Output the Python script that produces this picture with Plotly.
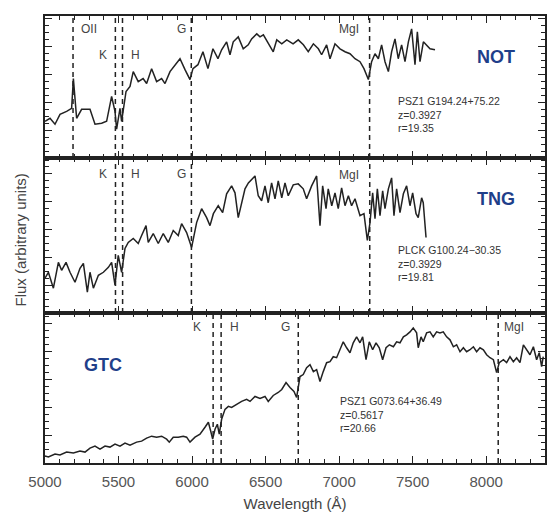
import plotly.graph_objects as go

# ---------------- data ----------------
not_wave = [5000, 5034, 5068, 5102, 5147, 5181, 5193, 5215, 5249, 5306, 5340, 5385, 5419, 5453, 5476, 5487,
            5510, 5521, 5551, 5578, 5600, 5634, 5667, 5691, 5725, 5759, 5793, 5816, 5850, 5884, 5918, 5952,
            5986, 6006, 6040, 6074, 6108, 6142, 6176, 6201, 6235, 6258, 6280, 6314, 6348, 6382, 6405, 6440,
            6462, 6485, 6518, 6552, 6576, 6610, 6644, 6687, 6722, 6757, 6790, 6825, 6859, 6881, 6915, 6938,
            6972, 7006, 7040, 7074, 7108, 7142, 7169, 7199, 7221, 7244, 7267, 7289, 7312, 7335, 7357, 7380,
            7402, 7425, 7448, 7471, 7493, 7516, 7532, 7550, 7573, 7595, 7618, 7652]
not_flux = [37, 40, 34, 44, 47, 50, 80, 40, 49, 49, 34, 35, 37, 62, 47, 29,
            50, 37, 67, 72, 87, 77, 80, 75, 90, 77, 80, 75, 87, 94, 100, 89,
            79, 90, 94, 107, 90, 110, 100, 109, 117, 104, 117, 122, 110, 114, 120, 125,
            122, 124, 115, 107, 119, 115, 119, 115, 119, 114, 107, 115, 110, 104, 114, 100,
            115, 110, 107, 105, 100, 97, 90, 79, 97, 105, 100, 114, 97, 87, 107, 120,
            100, 114, 97, 117, 130, 94, 127, 97, 117, 114, 110, 109]

tng_wave = [5000, 5023, 5057, 5091, 5113, 5143, 5170, 5204, 5238, 5261, 5288, 5306, 5329, 5363, 5397, 5431,
            5453, 5476, 5498, 5521, 5544, 5566, 5600, 5634, 5657, 5687, 5702, 5736, 5770, 5804, 5838, 5872,
            5906, 5929, 5963, 5997, 6031, 6065, 6099, 6122, 6145, 6178, 6208, 6235, 6269, 6292, 6314, 6337,
            6360, 6383, 6416, 6428, 6450, 6473, 6496, 6518, 6541, 6564, 6586, 6610, 6632, 6654, 6688, 6722,
            6756, 6779, 6813, 6847, 6870, 6888, 6911, 6926, 6950, 6972, 6994, 7017, 7040, 7063, 7085, 7108,
            7142, 7169, 7192, 7210, 7228, 7244, 7260, 7278, 7296, 7312, 7335, 7357, 7373, 7391, 7414, 7437,
            7459, 7482, 7500, 7523, 7538, 7561, 7572, 7591]
tng_flux = [35, 41, 25, 51, 43, 51, 41, 31, 45, 50, 21, 41, 25, 38, 41, 46,
            51, 28, 58, 41, 65, 71, 75, 70, 78, 88, 71, 80, 70, 80, 71, 83,
            78, 90, 81, 66, 91, 105, 96, 88, 100, 108, 101, 120, 128, 121, 96, 111,
            125, 131, 136, 138, 118, 113, 128, 111, 131, 115, 133, 116, 131, 118, 129, 130,
            125, 115, 128, 138, 88, 128, 105, 125, 108, 121, 105, 126, 108, 118, 108, 115,
            98, 100, 73, 91, 121, 95, 125, 98, 123, 105, 125, 136, 98, 125, 101, 120,
            128, 108, 121, 100, 96, 116, 111, 76]

gtc_wave = [5000, 5023, 5068, 5102, 5147, 5193, 5238, 5272, 5306, 5340, 5374, 5408, 5442, 5476, 5510, 5544,
            5578, 5623, 5657, 5691, 5725, 5759, 5793, 5827, 5845, 5872, 5906, 5940, 5963, 5986, 6020, 6054,
            6088, 6111, 6127, 6140, 6156, 6172, 6185, 6201, 6224, 6247, 6269, 6303, 6337, 6371, 6394, 6428,
            6462, 6496, 6518, 6552, 6586, 6610, 6639, 6666, 6693, 6711, 6734, 6756, 6779, 6802, 6825, 6847,
            6870, 6892, 6915, 6938, 6960, 6983, 7006, 7028, 7051, 7074, 7096, 7119, 7142, 7160, 7183, 7205,
            7228, 7251, 7273, 7296, 7319, 7342, 7369, 7391, 7414, 7437, 7459, 7482, 7504, 7527, 7538, 7557,
            7572, 7595, 7618, 7640, 7663, 7686, 7708, 7731, 7754, 7777, 7799, 7822, 7845, 7867, 7890, 7913,
            7935, 7958, 7981, 8003, 8026, 8049, 8071, 8089, 8117, 8139, 8162, 8185, 8207, 8230, 8253, 8275,
            8298, 8321, 8343, 8361, 8377, 8388]
gtc_flux = [7, 6, 9, 8, 11, 10, 12, 11, 15, 17, 14, 17, 16, 19, 17, 20,
            18, 21, 22, 25, 27, 26, 27, 24, 21, 26, 26, 27, 26, 21, 26, 29,
            36, 41, 32, 24, 34, 39, 29, 44, 54, 57, 56, 59, 62, 64, 62, 67,
            65, 67, 62, 68, 71, 74, 81, 76, 72, 66, 87, 89, 96, 99, 92, 94,
            82, 92, 101, 102, 107, 106, 114, 122, 116, 111, 121, 127, 121, 127, 104, 122,
            114, 121, 116, 104, 116, 119, 117, 122, 121, 127, 129, 132, 136, 131, 116, 127,
            122, 131, 132, 127, 132, 131, 132, 127, 124, 117, 119, 112, 116, 112, 114, 117,
            112, 116, 114, 109, 106, 104, 91, 101, 104, 101, 107, 102, 106, 101, 119, 114,
            109, 117, 104, 111, 97, 107]

panel_names = ["NOT", "TNG", "GTC"]
panel_ids = ["PSZ1 G194.24+75.22", "PLCK G100.24\u221230.35", "PSZ1 G073.64+36.49"]
panel_z = [0.3927, 0.3929, 0.5617]
panel_r = [19.35, 19.81, 20.66]
panel_ymax = [143, 156, 151]

# rest-frame features
line_names = ["OII", "K", "H", "G", "MgI"]
line_rest = [3727.0, 3933.7, 3968.5, 4304.4, 5175.0]
panel_lines = [["OII", "K", "H", "G", "MgI"], ["K", "H", "G", "MgI"], ["K", "H", "G", "MgI"]]

x_ticks = [5000, 5500, 6000, 6500, 7000, 7500, 8000]
x_range = [5000, 8400]

# ---------------- figure ----------------
# The page body has an 8px margin, so the figure is drawn 8px smaller and
# all reference pixel positions are shifted by that offset.
OFF = 8
W, H = 558 - OFF, 516 - OFF
PL, PR, PT, PB = 45, 545, 14, 464          # plot area in reference pixels
L, T = PL - OFF, PT - OFF
R, B = W - (PR - OFF), H - (PB - OFF)
pw, ph = PR - PL, PB - PT
borders = [(14, 157), (157, 313), (313, 464)]


def py2paper(py):
    return (PB - py) / ph


def px2paper(px):
    return (px - PL) / pw


fig = go.Figure()
waves = [not_wave, tng_wave, gtc_wave]
fluxes = [not_flux, tng_flux, gtc_flux]

axis_common = dict(showline=True, linecolor="#222", linewidth=1.5, mirror="ticks",
                   ticks="inside", tickcolor="#222", tickwidth=1.2, showgrid=False, zeroline=False)

for i in range(3):
    ax = "" if i == 0 else str(i + 1)
    fig.add_trace(go.Scatter(x=waves[i], y=fluxes[i], mode="lines",
                             line=dict(color="#222", width=1.5),
                             xaxis="x" + ax, yaxis="y" + ax, showlegend=False,
                             hoverinfo="skip"))
    top, bot = borders[i]
    dom = [py2paper(bot), py2paper(top)]
    fig.layout["xaxis" + ax] = go.layout.XAxis(
        domain=[0, 1], range=x_range, anchor="y" + ax,
        tickvals=x_ticks, ticklen=7, ticklabelstandoff=4,
        minor=dict(dtick=100, ticklen=4, tickcolor="#222", ticks="inside"),
        showticklabels=(i == 2),
        tickfont=dict(family="Liberation Sans, Arial", size=15, color="#555"),
        title=dict(text="Wavelength (\u00c5)" if i == 2 else "",
                   font=dict(family="Liberation Sans, Arial", size=15, color="#444"),
                   standoff=10),
        **axis_common)
    fig.layout["yaxis" + ax] = go.layout.YAxis(
        domain=dom, range=[0, panel_ymax[i]], anchor="x" + ax,
        showticklabels=False, dtick=28, tick0=0, ticklen=7,
        minor=dict(dtick=7, ticklen=4, tickcolor="#222", ticks="inside"),
        **axis_common)

    # spectral feature lines
    z = panel_z[i]
    for nm in panel_lines[i]:
        lam = line_rest[line_names.index(nm)] * (1 + z)
        fig.add_shape(type="line", x0=lam, x1=lam, y0=0, y1=1, xref="x" + ax,
                      yref="y" + ax + " domain",
                      line=dict(color="#222", width=1.5, dash="5px,4px"))

annotations = []
lab_font = dict(family="Liberation Sans, Arial", size=12, color="#444")
label_pos = [
    {"OII": (89, 27), "K": (103, 53), "H": (135, 53), "G": (181, 27), "MgI": (349, 27)},
    {"K": (103, 173), "H": (135, 173), "G": (181, 173), "MgI": (349, 174)},
    {"K": (197, 327), "H": (234, 327), "G": (285, 327), "MgI": (514, 327)},
]
for i in range(3):
    for nm, (px, py) in label_pos[i].items():
        annotations.append(dict(text=nm, x=px2paper(px), y=py2paper(py), xref="paper", yref="paper",
                                showarrow=False, font=lab_font, xanchor="center", yanchor="middle"))

name_pos = [(496, 55), (496, 198), (103, 365)]
for i in range(3):
    px, py = name_pos[i]
    annotations.append(dict(text="<b>" + panel_names[i] + "</b>", x=px2paper(px), y=py2paper(py),
                            xref="paper", yref="paper", showarrow=False,
                            font=dict(family="Liberation Sans, Arial", size=18, color="#1f3f8a"),
                            xanchor="center", yanchor="middle"))

info_pos = [(396, 98), (396, 248), (338, 400)]
for i in range(3):
    px, py = info_pos[i]
    txt = f"{panel_ids[i]}<br>z={panel_z[i]:.4f}<br>r={panel_r[i]:.2f}"
    annotations.append(dict(text=txt, x=px2paper(px), y=py2paper(py - 6), xref="paper", yref="paper",
                            showarrow=False, align="left", xanchor="left", yanchor="top",
                            font=dict(family="Liberation Sans Narrow, Liberation Sans, Arial", size=10.5,
                                      color="#333")))

annotations.append(dict(text="Flux (arbitrary units)", x=px2paper(20), y=py2paper(240),
                        xref="paper", yref="paper", showarrow=False, textangle=-90,
                        xanchor="center", yanchor="middle",
                        font=dict(family="Liberation Sans, Arial", size=15, color="#444")))

fig.update_layout(width=W, height=H, margin=dict(l=L, r=R, t=T, b=B),
                  plot_bgcolor="white", paper_bgcolor="white", annotations=annotations,
                  showlegend=False)

fig.write_html("out.html")
